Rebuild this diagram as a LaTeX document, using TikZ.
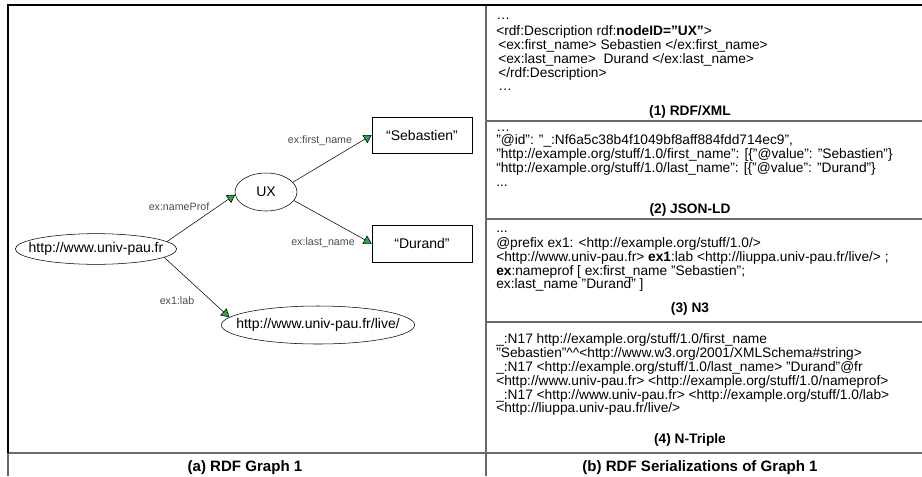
\documentclass[tikz,border=0pt]{standalone}
\usepackage{fontspec}
\setmainfont{Liberation Sans}
\usetikzlibrary{arrows.meta,shapes.geometric}

\definecolor{tipgreen}{RGB}{40,165,70}
\definecolor{rulegray}{RGB}{105,105,105}
\definecolor{propgray}{RGB}{75,75,75}

\newcommand\graphfont{\fontsize{10.5}{12}\selectfont}
\newcommand\propfont{\fontsize{8}{9}\selectfont}
\newcommand\codefont{\fontsize{10.3}{10.5}\selectfont}
\newcommand\partfont{\fontsize{10.3}{12}\selectfont\bfseries}
\newcommand\capfont{\fontsize{11.3}{13}\selectfont\bfseries}

\tikzset{
	resource/.style={ellipse, draw, thin, inner sep=0pt},
	literal/.style={rectangle, draw, thin, inner sep=0pt, font=\graphfont},
	prop/.style={font=\propfont, text=propgray, inner sep=0pt},
	rel/.style={draw, thin, -{Triangle[length=6pt, width=7pt, fill=tipgreen]}},
	codeline/.style={anchor=base west, font=\codefont, inner sep=0pt},
	part/.style={anchor=base, font=\partfont, inner sep=0pt},
	every label/.style={font=\graphfont, inner sep=0pt}
}

\begin{document}
\begin{tikzpicture}[x=0.75pt, y=-0.75pt]
		\useasboundingbox (0,0) rectangle (922,476);
		
		%frame
		\draw[rulegray, line width=0.8pt] (8,453) -- (8,476);
		\draw[rulegray, line width=0.8pt] (486,5) -- (486,476);
		\draw[rulegray, line width=0.8pt] (8,453) -- (922,453);
		\foreach \y in {121, 219, 322}{
			\draw[rulegray, line width=0.8pt] (486,\y) -- (922,\y);
		}
		\draw[line width=1pt] (8,453) -- (8,5) -- (922,5);
		
		%graph
		\node[resource, minimum width=121pt, minimum height=23pt, label=center:{http://www.univ-pau.fr}] (univ) at (96,249) {};
		\node[resource, minimum width=46.5pt, minimum height=28.5pt, label=center:{UX}] (ux) at (266,192) {};
		\node[resource, minimum width=145pt, minimum height=28.5pt, label=center:{http://www.univ-pau.fr/live/}] (live) at (318,325) {};
		\node[literal, minimum width=75pt, minimum height=27pt] (seb) at (422,135) {“Sebastien”};
		\node[literal, minimum width=75pt, minimum height=28pt] (dur) at (422,243.5) {“Durand”};
		
		\draw[rel] (univ.6) -- (ux.185);
		\draw[rel] (ux.20) -- (seb.west);
		\draw[rel] (ux.-17) -- (dur.west);
		\draw[rel] (univ.-7) -- (live.175);
		
		\node[prop] (pname) at (179,207) {ex:nameProf};
		\node[prop] (pfirst) at (320,141) {ex:first\_name};
		\node[prop] (plast) at (323,243) {ex:last\_name};
		\node[prop] (plab) at (177,301) {ex1:lab};
		
		%(1) RDF/XML
		\node[codeline] (xml0) at (496,19) {…};
		\node[codeline] (xml1) at (496,35) {<rdf:Description rdf:\textbf{nodeID="UX"}>};
		\node[codeline] (xml2) at (498,49) {<ex:first\_name> Sebastien </ex:first\_name>};
		\node[codeline] (xml3) at (498,63) {<ex:last\_name>\ \ Durand </ex:last\_name>};
		\node[codeline] (xml4) at (498,77) {</rdf:Description>};
		\node[codeline] (xml5) at (498,90) {…};
		\node[part] (xmlcap) at (690,115) {(1) RDF/XML};
		
		%(2) JSON-LD
		\node[codeline] (json0) at (496,131) {…};
		\node[codeline] (json1) at (496,144) {"@id": "\_:Nf6a5c38b4f1049bf8aff884fdd714ec9",};
		\node[codeline] (json2) at (496,158) {"http://example.org/stuff/1.0/first\_name": [\{"@value": "Sebastien"\}};
		\node[codeline] (json3) at (496,172) {“http://example.org/stuff/1.0/last\_name": [\{"@value": "Durand"\}};
		\node[codeline] (json4) at (496,186) {...};
		\node[part] (jsoncap) at (690,213) {(2) JSON-LD};
		
		%(3) N3
		\node[codeline] (nt0) at (496,232) {...};
		\node[codeline] (nt1) at (496,247) {@prefix ex1: <http://example.org/stuff/1.0/>};
		\node[codeline] (nt2) at (496,261) {<http://www.univ-pau.fr> \textbf{ex1}:lab <http://liuppa.univ-pau.fr/live/> ;};
		\node[codeline] (nt3) at (496,275) {\textbf{ex}:nameprof [ ex:first\_name "Sebastien";};
		\node[codeline] (nt4) at (496,288) {ex:last\_name "Durand" ]};
		\node[part] (ntcap) at (690,312) {(3) N3};
		
		%(4) N-Triple
		\node[codeline] (tr0) at (496,343) {\_:N17 http://example.org/stuff/1.0/first\_name};
		\node[codeline] (tr1) at (496,357) {"Sebastien"\textasciicircum\textasciicircum<http://www.w3.org/2001/XMLSchema\#string>};
		\node[codeline] (tr2) at (496,371) {\_:N17 <http://example.org/stuff/1.0/last\_name> "Durand"@fr};
		\node[codeline] (tr3) at (496,385) {<http://www.univ-pau.fr> <http://example.org/stuff/1.0/nameprof>};
		\node[codeline] (tr4) at (496,399) {\_:N17 <http://www.univ-pau.fr> <http://example.org/stuff/1.0/lab>};
		\node[codeline] (tr5) at (496,412) {<http://liuppa.univ-pau.fr/live/>};
		\node[part] (trcap) at (690,443) {(4) N-Triple};
		
		%captions
		\node[anchor=base, font=\capfont, inner sep=0pt] (capa) at (245,471) {(a) RDF Graph 1};
		\node[anchor=base, font=\capfont, inner sep=0pt] (capb) at (700,471) {(b) RDF Serializations of Graph 1};
\end{tikzpicture}
\end{document}
